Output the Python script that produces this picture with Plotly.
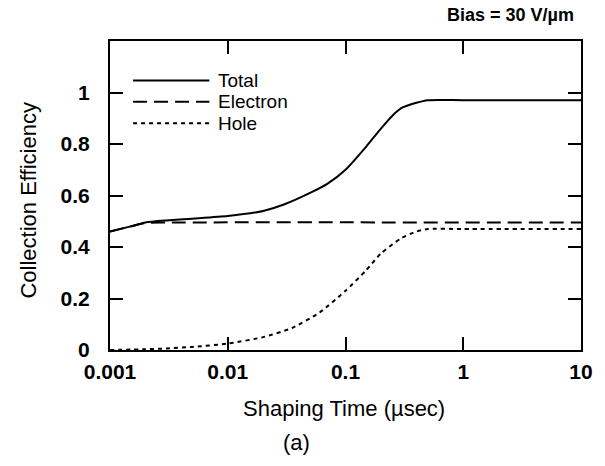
import plotly.graph_objects as go

# Data
total_x = [0.001, 0.0015, 0.002, 0.003, 0.005, 0.01, 0.02, 0.03, 0.05, 0.07, 0.1, 0.15, 0.2, 0.25, 0.3, 0.4, 0.5, 1, 10]
total_y = [0.46, 0.48, 0.495, 0.503, 0.51, 0.52, 0.54, 0.565, 0.61, 0.645, 0.70, 0.79, 0.86, 0.91, 0.94, 0.96, 0.97, 0.97, 0.97]

electron_x = [0.001, 0.0015, 0.002, 0.003, 10]
electron_y = [0.46, 0.48, 0.493, 0.495, 0.495]

hole_x = [0.001, 0.002, 0.003, 0.005, 0.01, 0.02, 0.035, 0.06, 0.1, 0.15, 0.2, 0.3, 0.4, 0.5, 1, 10]
hole_y = [0.0, 0.003, 0.006, 0.012, 0.025, 0.05, 0.085, 0.145, 0.23, 0.31, 0.375, 0.435, 0.46, 0.47, 0.47, 0.47]

x_tickvals = [0.001, 0.01, 0.1, 1, 10]
x_ticktext = ["0.001", "0.01", "0.1", "1", "10"]
y_tickvals = [0, 0.2, 0.4, 0.6, 0.8, 1]
y_ticktext = ["0", "0.2", "0.4", "0.6", "0.8", "1"]

series = [
    ("Total", total_x, total_y, "solid"),
    ("Electron", electron_x, electron_y, "14px,7px"),
    ("Hole", hole_x, hole_y, "4px,4px"),
]

FONT = "Liberation Sans, Arial, sans-serif"

fig = go.Figure()
for name, xs, ys, dash in series:
    fig.add_trace(go.Scatter(x=xs, y=ys, mode="lines", name=name,
                             line=dict(color="black", width=2, dash=dash, shape="spline", smoothing=0.6),
                             showlegend=False))

# Manual legend (long line samples like the reference)
leg_rows = [0.872, 0.803, 0.734]
for (name, _, _, dash), yy in zip(series, leg_rows):
    fig.add_shape(type="line", xref="paper", yref="paper", x0=0.049, x1=0.211, y0=yy, y1=yy,
                  line=dict(color="black", width=2, dash=dash))
    fig.add_annotation(xref="paper", yref="paper", x=0.224, y=yy, text=name, showarrow=False,
                       xanchor="left", yanchor="middle", font=dict(size=19, color="black", family=FONT))

fig.add_annotation(xref="paper", yref="paper", x=0.99, y=1.084, text="Bias = 30 V/µm", showarrow=False,
                   xanchor="right", yanchor="middle",
                   font=dict(size=18, color="black", family=FONT, weight="bold"))
fig.add_annotation(xref="paper", yref="paper", x=-0.173, y=0.482, text="Collection Efficiency", showarrow=False,
                   textangle=-90, xanchor="center", yanchor="middle", font=dict(size=22, color="black", family=FONT))
fig.add_annotation(xref="paper", yref="paper", x=0.497, y=-0.188, text="Shaping Time (µsec)", showarrow=False,
                   xanchor="center", yanchor="middle", font=dict(size=22, color="black", family=FONT))
fig.add_annotation(xref="paper", yref="paper", x=0.397, y=-0.30, text="(a)", showarrow=False,
                   xanchor="center", yanchor="middle", font=dict(size=22, color="black", family=FONT))

axis_common = dict(showline=True, linewidth=2, linecolor="black", mirror="ticks", ticks="inside",
                   ticklen=13, tickwidth=2, tickcolor="black", showgrid=False, zeroline=False,
                   tickfont=dict(size=21, color="black", family=FONT, weight="bold"))

fig.update_xaxes(type="log", range=[-3, 1], tickvals=x_tickvals, ticktext=x_ticktext,
                 ticklabelstandoff=2, **axis_common)
fig.update_yaxes(range=[0, 1.2], tickvals=y_tickvals, ticktext=y_ticktext,
                 ticklabelstandoff=14, **axis_common)

fig.update_layout(width=605, height=466, margin=dict(l=110, r=22, t=41, b=116),
                  plot_bgcolor="white", paper_bgcolor="white", showlegend=False)

fig.write_html("out.html")
